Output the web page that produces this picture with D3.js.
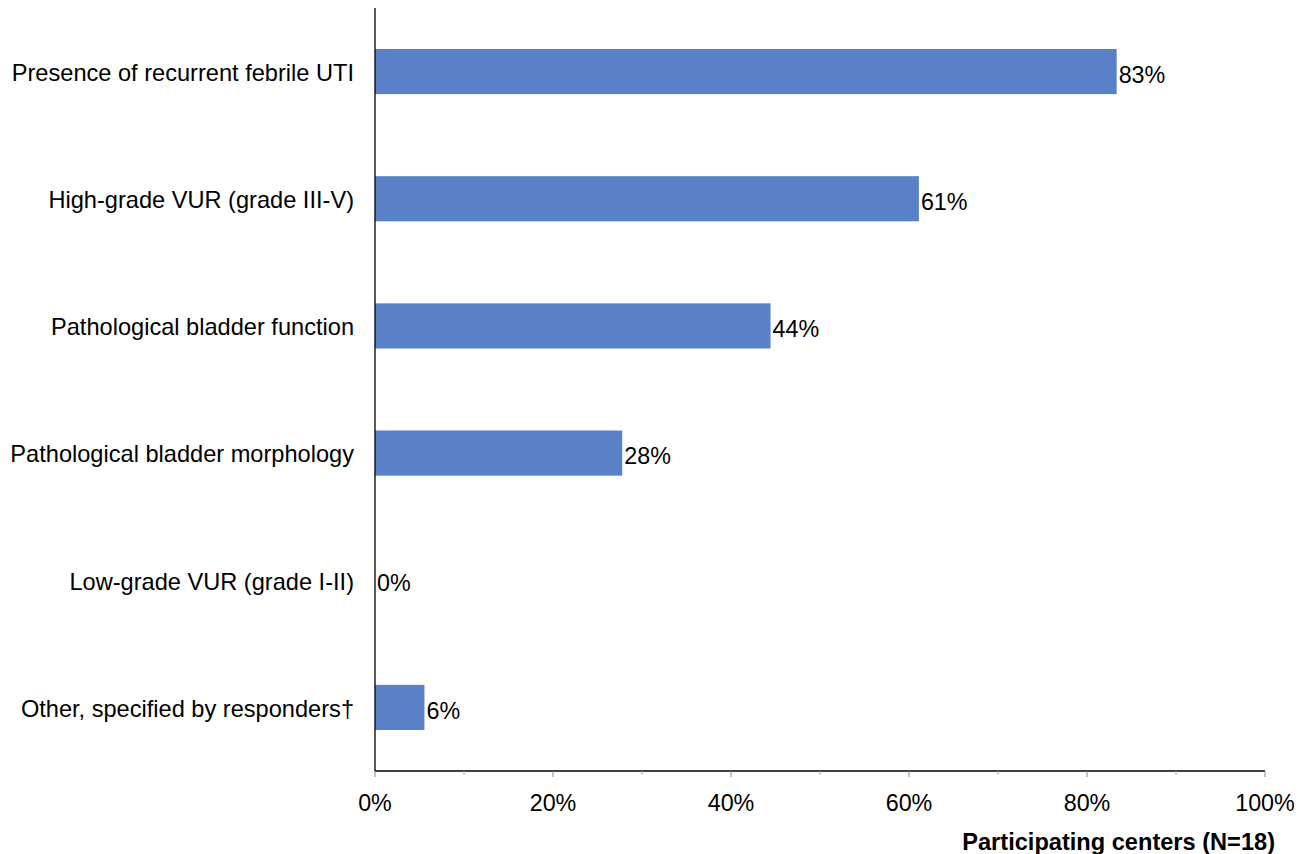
<!DOCTYPE html>
<html><head><meta charset="utf-8">
<script src="https://cdn.jsdelivr.net/npm/d3@7"></script>
<style>body{margin:0;background:#fff}svg{display:block;font-family:"Liberation Sans",Arial,sans-serif}</style>
</head><body>
<svg id="c" width="1307" height="854"></svg>
<script>
const categories = ["Presence of recurrent febrile UTI","High-grade VUR (grade III-V)","Pathological bladder function","Pathological bladder morphology","Low-grade VUR (grade I-II)","Other, specified by responders\u2020"];
const counts = [15, 11, 8, 5, 0, 1];
const total = 18;
const valueLabels = ["83%","61%","44%","28%","0%","6%"];
const tickValues = [0,0.2,0.4,0.6,0.8,1.0];
const minorTicks = [0.1,0.3,0.5,0.7,0.9];
const axisTitle = "Participating centers (N=18)";

const FS = 23.3;
const svg = d3.select("#c");
const x = d3.scaleLinear().domain([0,1]).range([375,1265]);
const y = d3.scaleBand().domain(categories).range([8,771]).paddingInner(0.645).paddingOuter(0.3225);

svg.selectAll("rect.bar").data(categories).join("rect")
  .attr("x", x(0)).attr("y", d=>y(d))
  .attr("width", (d,i)=>x(counts[i]/total)-x(0))
  .attr("height", y.bandwidth()).attr("fill","#5a81c8");

svg.selectAll("text.val").data(categories).join("text")
  .attr("x",(d,i)=>x(counts[i]/total)+2).attr("y",d=>y(d)+y.bandwidth()/2+3)
  .attr("dy","0.35em").attr("font-size",FS).attr("fill","#000")
  .text((d,i)=>valueLabels[i]);

svg.selectAll("text.cat").data(categories).join("text")
  .attr("x",354).attr("y",d=>y(d)+y.bandwidth()/2+1)
  .attr("dy","0.35em").attr("text-anchor","end").attr("font-size",23.6).attr("fill","#000")
  .text(d=>d);

svg.append("line").attr("x1",x(0)).attr("x2",x(0)).attr("y1",8).attr("y2",771).attr("stroke","#000").attr("stroke-width",1.3);
const xa = svg.append("g").attr("transform","translate(0,771)");
xa.append("line").attr("x1",x(0)).attr("x2",x(1)).attr("y1",0).attr("y2",0).attr("stroke","#000").attr("stroke-width",1.3);
xa.selectAll("line.maj").data(tickValues).join("line").attr("x1",d=>x(d)).attr("x2",d=>x(d)).attr("y1",0).attr("y2",6).attr("stroke","#888");
xa.selectAll("line.min").data(minorTicks).join("line").attr("x1",d=>x(d)).attr("x2",d=>x(d)).attr("y1",0).attr("y2",4).attr("stroke","#aaa");
xa.selectAll("text.tk").data(tickValues).join("text").attr("x",d=>x(d)).attr("y",40)
  .attr("text-anchor","middle").attr("font-size",FS).attr("fill","#000").text(d=>d3.format(".0%")(d));

svg.append("text").attr("x",1275).attr("y",850).attr("text-anchor","end").attr("font-size",23.6)
  .attr("font-weight","bold").attr("fill","#000").text(axisTitle);
</script>
</body></html>
